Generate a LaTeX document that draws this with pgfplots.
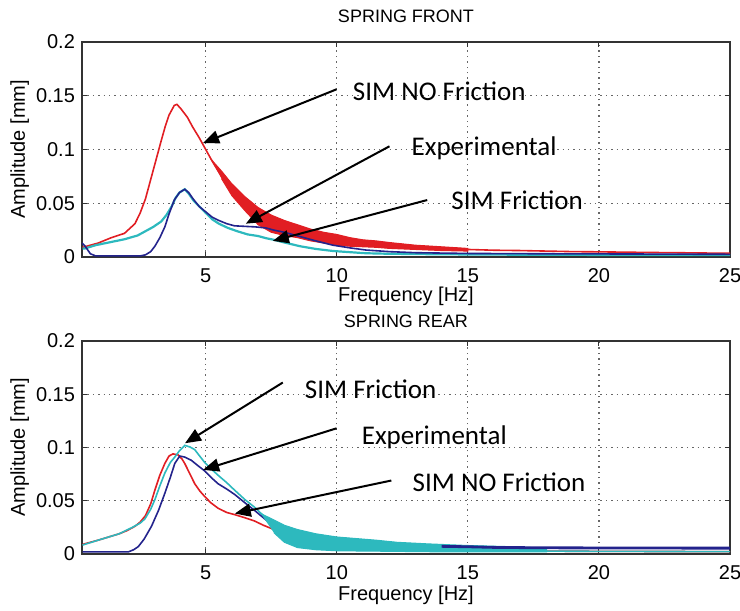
\documentclass[border=0pt]{standalone}
\usepackage{pgfplots}
\pgfplotsset{compat=1.18}
\usepackage{fontspec}
\setmainfont{Liberation Sans}
\newfontfamily\calib{Carlito}
\usetikzlibrary{arrows.meta}

\definecolor{simred}{RGB}{225,30,35}
\definecolor{expblue}{RGB}{35,35,140}
\definecolor{simcyan}{RGB}{45,185,190}

\pgfplotsset{
  springaxis/.style={
    width=324pt, scale only axis,
    xmin=0.28, xmax=25, ymin=0, ymax=0.2,
    xtick={5,10,15,20,25}, xticklabels={5,10,15,20,25},
    ytick={0,0.05,0.1,0.15,0.2}, yticklabels={0,0.05,0.1,0.15,0.2},
    scaled y ticks=false,
    tick align=inside, major tick length=2.5pt,
    tick style={black!80, line width=0.5pt},
    axis line style={black!80, line width=0.6pt},
    grid=major,
    major grid style={black!60, line width=0.6pt, dash pattern=on 0.7pt off 2pt},
    tick label style={font=\fontsize{10}{12}\selectfont},
    xticklabel style={yshift=-2.3pt},
    label style={font=\fontsize{9.5}{11}\selectfont},
    xlabel={Frequency [Hz]}, ylabel={Amplitude [mm]},
    every axis y label/.style={at={(axis description cs:-0.096,0.5)}, rotate=90, anchor=center},
    clip=true,
  },
}
\tikzset{
  note/.style={font=\calib\fontsize{13.5}{16}\selectfont, anchor=west, inner sep=0pt},
  pointer/.style={-{Triangle[length=8pt,width=6.5pt]}, line width=1pt, black},
}

\begin{document}
\begin{tikzpicture}
% ---------------- SPRING FRONT ----------------
\begin{axis}[springaxis, at={(0,0)}, height=107.5pt,
    title={SPRING FRONT},
    every axis title/.style={at={(axis description cs:0.5,1.121)}, anchor=center, font=\fontsize{9}{11}\selectfont},
    every axis x label/.style={at={(axis description cs:0.5,-0.181)}, anchor=center}]
  % SIM NO Friction
  \addplot[simred, line width=0.8pt] coordinates {
    (0.3,0.009) (0.4,0.0096) (0.9,0.013) (1.4,0.018) (1.9,0.022) (2.3,0.031) (2.5,0.041)
    (2.7,0.054) (2.9,0.072) (3.1,0.090) (3.3,0.108) (3.45,0.121) (3.6,0.132) (3.8,0.141)
    (3.9,0.142) (4.05,0.138) (4.3,0.130) (4.5,0.121) (4.75,0.111) (5.0,0.100) (5.25,0.089)
    (5.5,0.079) (6.0,0.062) (6.5,0.049) (7.0,0.038) (7.5,0.031) (8.0,0.027) (8.5,0.024)
    (9.0,0.021) (9.5,0.018) (10,0.016) (10.5,0.014) (11,0.013) (11.5,0.012) (12,0.011)
    (13,0.009) (14,0.0078) (15,0.007) (16,0.0063) (17,0.006) (18,0.0055) (19,0.005)
    (20,0.0048) (21,0.0045) (22,0.0042) (23,0.004) (24,0.0037) (25,0.0035)
  };
  \addplot[simred, fill=simred, line width=0.5pt] coordinates {
    (5.2,0.091) (5.6,0.080) (6.0,0.068) (6.5,0.056) (7.0,0.046) (7.5,0.039) (8.0,0.034)
    (8.5,0.030) (9.0,0.026) (9.5,0.023) (10,0.021) (10.5,0.018) (11,0.016) (11.5,0.015)
    (12,0.0135) (13,0.011) (14,0.0095) (15,0.008)
    (15,0.0055) (14,0.006) (13,0.007) (12,0.008) (11.5,0.009) (11,0.0095) (10.5,0.010)
    (10,0.011) (9.5,0.013) (9.0,0.015) (8.5,0.018) (8.0,0.020) (7.5,0.023) (7.0,0.030)
    (6.5,0.043) (6.0,0.057) (5.6,0.073)
  };
  % SIM Friction
  \addplot[simcyan, line width=1.1pt] coordinates {
    (0.3,0.008) (0.4,0.008) (0.8,0.011) (1.2,0.013) (1.9,0.0165) (2.4,0.020) (2.7,0.024)
    (3.0,0.028) (3.3,0.033) (3.5,0.039) (3.7,0.047) (3.85,0.055) (4.0,0.060) (4.2,0.063)
    (4.35,0.059) (4.55,0.052) (4.8,0.046) (5.0,0.041) (5.25,0.035) (5.5,0.031) (5.85,0.027)
    (6.2,0.024) (6.6,0.021) (7.0,0.0195) (7.3,0.0175) (7.6,0.016) (8.0,0.0135) (8.6,0.010)
    (9.2,0.0075) (9.85,0.0056) (10.5,0.0045) (11.1,0.0035) (12,0.003) (14,0.0025)
    (18,0.002) (25,0.0018)
  };
  % Experimental
  \addplot[expblue, line width=0.8pt] coordinates {
    (0.28,0.013) (0.4,0.010) (0.6,0.003) (0.8,0.001) (1.5,0.001) (2.0,0.001) (2.5,0.001)
    (2.7,0.002) (2.9,0.005) (3.06,0.010) (3.25,0.018) (3.44,0.028) (3.6,0.040) (3.8,0.053)
    (4.0,0.060) (4.2,0.063) (4.35,0.060) (4.52,0.054) (4.75,0.047) (5.0,0.042) (5.25,0.037)
    (5.5,0.034) (5.8,0.031) (6.1,0.029) (6.5,0.0285) (6.9,0.028) (7.3,0.027) (7.6,0.025)
    (8.0,0.023) (8.6,0.019) (9.2,0.015) (9.85,0.011) (10.5,0.0085) (11.1,0.0065) (12,0.005)
    (13,0.004) (15,0.0033) (18,0.003) (21,0.0028) (25,0.0025)
  };
  \node[note] at (axis cs:10.60,0.1544) {SIM NO Friction};
  \draw[pointer] (axis cs:9.99,0.156) -- (axis cs:4.90,0.106);
  \node[note] at (axis cs:12.84,0.1014) {Experimental};
  \draw[pointer] (axis cs:12.01,0.103) -- (axis cs:6.53,0.031);
  \node[note] at (axis cs:14.36,0.053) {SIM Friction};
  \draw[pointer] (axis cs:13.45,0.053) -- (axis cs:7.56,0.015);
\end{axis}

% ---------------- SPRING REAR ----------------
\begin{axis}[springaxis, at={(0,-148.5pt)}, height=106.5pt,
    title={SPRING REAR},
    every axis title/.style={at={(axis description cs:0.5,1.094)}, anchor=center, font=\fontsize{9}{11}\selectfont},
    every axis x label/.style={at={(axis description cs:0.5,-0.192)}, anchor=center}]
  % SIM NO Friction
  \addplot[simred, line width=0.8pt] coordinates {
    (0.3,0.009) (0.9,0.013) (1.3,0.016) (1.7,0.019) (2.0,0.022) (2.3,0.026) (2.5,0.030)
    (2.7,0.036) (2.9,0.047) (3.06,0.060) (3.25,0.074) (3.44,0.085) (3.6,0.092) (3.75,0.094)
    (3.95,0.093) (4.1,0.089) (4.2,0.085) (4.4,0.075) (4.58,0.066) (4.78,0.059) (4.96,0.054)
    (5.2,0.048) (5.47,0.043) (5.8,0.039) (6.1,0.037) (6.5,0.034) (6.86,0.031) (7.2,0.027)
    (7.6,0.023) (8.0,0.019) (8.6,0.014) (9.2,0.010) (10,0.007) (11,0.005) (12,0.004)
    (15,0.003) (20,0.0025) (25,0.0022)
  };
  % Experimental
  \addplot[expblue, line width=0.8pt] coordinates {
    (0.3,0.002) (1.0,0.002) (1.5,0.002) (2.05,0.002) (2.25,0.004) (2.43,0.007) (2.65,0.014)
    (2.93,0.026) (3.2,0.041) (3.44,0.057) (3.65,0.072) (3.82,0.085) (4.01,0.092) (4.2,0.091)
    (4.45,0.088) (4.7,0.083) (4.96,0.078) (5.2,0.072) (5.47,0.066) (5.8,0.061) (6.1,0.056)
    (6.5,0.048) (6.86,0.041) (7.3,0.032) (7.62,0.027) (8.0,0.023) (8.6,0.019) (9.2,0.0155)
    (9.85,0.013) (10.5,0.0115) (11.1,0.0103) (12.3,0.009) (13.5,0.008) (15,0.007)
  };
  % SIM Friction
  \addplot[simcyan, line width=0.8pt] coordinates {
    (0.3,0.0084) (0.9,0.013) (1.3,0.016) (1.7,0.019) (2.2,0.025) (2.5,0.029) (2.68,0.033)
    (2.9,0.042) (3.06,0.051) (3.25,0.064) (3.44,0.076) (3.65,0.086) (3.82,0.091) (4.0,0.097)
    (4.2,0.102) (4.4,0.1005) (4.58,0.098) (4.8,0.091) (4.96,0.086) (5.2,0.080) (5.47,0.074)
    (5.8,0.067) (6.1,0.060) (6.5,0.051) (6.86,0.044) (7.2,0.036) (7.62,0.029) (8.0,0.020)
    (9,0.010) (10,0.006) (12,0.004) (15,0.003) (20,0.0025) (25,0.0022)
  };
  \addplot[simcyan, fill=simcyan, line width=0.5pt] coordinates {
    (7.1,0.038) (7.6,0.032) (8.0,0.027) (8.5,0.023) (9.2,0.019) (10,0.016) (10.5,0.015)
    (11.5,0.013) (12.3,0.011) (13.5,0.0095) (15,0.008) (16.5,0.007) (18,0.0055)
    (18,0.002) (16,0.002) (14,0.002) (12,0.0025) (10,0.003) (9.2,0.004) (8.5,0.006)
    (8.0,0.011) (7.6,0.020)
  };
  % Experimental tail above the cyan band
  \addplot[expblue, line width=1.4pt] coordinates {
    (14,0.0072) (15,0.0068) (16,0.0062) (17,0.006) (18,0.0058) (20,0.0057) (22,0.0056)
    (24,0.0055) (25,0.0055)
  };
  \node[note] at (axis cs:8.77,0.1547) {SIM Friction};
  \draw[pointer] (axis cs:7.94,0.161) -- (axis cs:4.21,0.104);
  \node[note] at (axis cs:10.94,0.1097) {Experimental};
  \draw[pointer] (axis cs:9.99,0.118) -- (axis cs:4.90,0.079);
  \node[note] at (axis cs:12.88,0.0675) {SIM NO Friction};
  \draw[pointer] (axis cs:12.08,0.069) -- (axis cs:6.11,0.038);
\end{axis}
\pgfresetboundingbox
\path[use as bounding box] (-41pt,-177pt) rectangle (329pt,128.5pt);
\end{tikzpicture}
\end{document}
